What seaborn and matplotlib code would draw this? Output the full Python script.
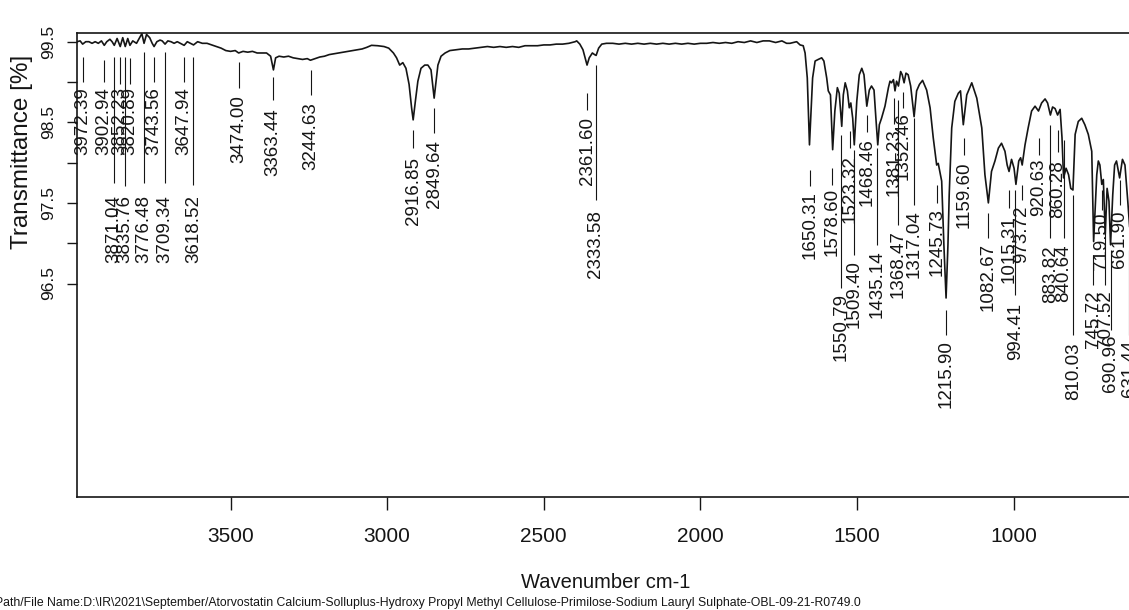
import matplotlib
matplotlib.use("Agg")
import matplotlib.pyplot as plt
import seaborn as sns
import pandas as pd

# ---------------- data ----------------
wavenumber = [
    3990, 3980, 3972, 3962, 3952, 3942, 3932, 3922, 3912, 3903, 3895, 3885, 3878, 3871,
    3862, 3852, 3844, 3836, 3828, 3821, 3812, 3800, 3790, 3783, 3776, 3768, 3758, 3750,
    3744, 3735, 3725, 3718, 3709, 3700, 3690, 3680, 3670, 3660, 3648, 3638, 3628, 3618,
    3605, 3590, 3575, 3560, 3545, 3530, 3515, 3500, 3485, 3474, 3460, 3445, 3430, 3415,
    3400, 3385, 3372, 3363, 3356, 3345, 3330, 3315, 3300, 3285, 3270, 3255, 3245, 3230,
    3215, 3200, 3185, 3170, 3155, 3140, 3125, 3110, 3095, 3080, 3065, 3050, 3030, 3010,
    2995, 2980, 2970, 2960, 2950, 2940, 2930, 2922, 2917, 2910, 2902, 2892, 2880, 2870,
    2860, 2855, 2850, 2845, 2838, 2828, 2815, 2800, 2780, 2760, 2740, 2720, 2700, 2680,
    2660, 2640, 2620, 2600, 2580, 2560, 2540, 2520, 2500, 2480, 2460, 2440, 2420, 2400,
    2395, 2385, 2375, 2368, 2362, 2355, 2345, 2338, 2333, 2325, 2315, 2300, 2280, 2260,
    2240, 2220, 2200, 2180, 2160, 2140, 2120, 2100, 2080, 2060, 2040, 2020, 2000, 1980,
    1960, 1940, 1920, 1900, 1880, 1860, 1840, 1820, 1800, 1780, 1760, 1740, 1725, 1714,
    1693, 1682, 1672, 1666, 1659, 1652, 1647, 1642, 1634, 1624, 1613, 1606, 1597, 1592,
    1585, 1578, 1571, 1563, 1557, 1549, 1544, 1538, 1531, 1525, 1520, 1514, 1509, 1501,
    1493, 1485, 1478, 1469, 1461, 1454, 1446, 1440, 1434, 1429, 1422, 1411, 1400, 1395,
    1390, 1384, 1379, 1374, 1368, 1361, 1356, 1350, 1344, 1337, 1329, 1318, 1310, 1301,
    1291, 1278, 1267, 1257, 1246, 1241, 1230, 1223, 1216, 1210, 1206, 1198, 1188, 1177,
    1170, 1161, 1150, 1134, 1118, 1102, 1092, 1081, 1071, 1060, 1049, 1039, 1028, 1021,
    1015, 1007, 999, 993, 984, 978, 973, 964, 954, 943, 932, 921, 911, 900,
    892, 883, 876, 868, 860, 852, 846, 841, 833, 825, 818, 811, 804, 794,
    783, 773, 762, 751, 748, 745, 735, 730, 725, 719, 714, 708, 702, 696,
    691, 684, 678, 672, 662, 653, 645, 636, 630,
]
transmittance = [
    99.50, 99.51, 99.47, 99.50, 99.50, 99.48, 99.50, 99.48, 99.51, 99.455, 99.50, 99.53, 99.50, 99.455,
    99.54, 99.44, 99.55, 99.44, 99.54, 99.455, 99.51, 99.48, 99.55, 99.60, 99.48, 99.59, 99.55, 99.48,
    99.44, 99.50, 99.52, 99.51, 99.47, 99.51, 99.50, 99.48, 99.50, 99.48, 99.455, 99.50, 99.48, 99.46,
    99.50, 99.48, 99.48, 99.46, 99.44, 99.42, 99.39, 99.38, 99.39, 99.36, 99.38, 99.37, 99.38, 99.36,
    99.36, 99.36, 99.32, 99.15, 99.30, 99.32, 99.31, 99.32, 99.30, 99.29, 99.28, 99.29, 99.27, 99.29,
    99.31, 99.32, 99.34, 99.35, 99.36, 99.37, 99.38, 99.39, 99.40, 99.41, 99.43, 99.455, 99.45, 99.44,
    99.42, 99.36, 99.30, 99.21, 99.24, 99.17, 98.97, 98.68, 98.53, 98.76, 99.01, 99.17, 99.21, 99.21,
    99.15, 98.97, 98.80, 98.97, 99.21, 99.32, 99.36, 99.39, 99.40, 99.41, 99.41, 99.42, 99.43, 99.44,
    99.43, 99.44, 99.43, 99.44, 99.43, 99.45, 99.45, 99.45, 99.46, 99.46, 99.47, 99.47, 99.48, 99.50,
    99.51, 99.47, 99.40, 99.30, 99.21, 99.30, 99.36, 99.34, 99.33, 99.42, 99.47, 99.48, 99.48, 99.47,
    99.48, 99.47, 99.48, 99.47, 99.48, 99.47, 99.48, 99.47, 99.48, 99.47, 99.48, 99.47, 99.48, 99.48,
    99.49, 99.48, 99.49, 99.48, 99.50, 99.49, 99.51, 99.49, 99.51, 99.51, 99.49, 99.51, 99.48, 99.48,
    99.50, 99.46, 99.45, 99.36, 99.05, 98.22, 98.64, 99.05, 99.26, 99.28, 99.30, 99.26, 99.05, 98.89,
    98.84, 98.16, 98.64, 98.93, 98.86, 98.45, 98.84, 98.99, 98.89, 98.68, 98.74, 98.55, 98.22, 98.76,
    99.09, 99.17, 99.09, 98.70, 98.90, 98.95, 98.90, 98.55, 98.22, 98.47, 98.55, 98.70, 98.93, 99.01,
    98.99, 99.03, 98.89, 99.01, 98.95, 99.13, 99.09, 98.99, 99.11, 99.09, 98.95, 98.57, 98.89, 98.97,
    99.02, 98.90, 98.68, 98.31, 97.97, 97.99, 97.77, 96.98, 96.32, 96.98, 97.60, 98.43, 98.76, 98.86,
    98.89, 98.47, 98.84, 98.99, 98.80, 98.43, 97.85, 97.50, 97.89, 98.02, 98.18, 98.24, 98.14, 97.97,
    97.89, 98.04, 97.93, 97.73, 98.02, 98.06, 97.97, 98.22, 98.43, 98.64, 98.70, 98.64, 98.74, 98.79,
    98.74, 98.59, 98.69, 98.67, 98.59, 98.66, 98.31, 97.81, 97.93, 97.85, 97.68, 97.66, 98.35, 98.51,
    98.55, 98.47, 98.35, 98.14, 97.60, 97.02, 97.85, 98.02, 97.97, 97.73, 97.79, 97.11, 97.68, 97.52,
    96.98, 97.60, 97.97, 98.02, 97.81, 98.04, 97.97, 97.52, 97.20,
]
peak_positions = [
    3972.39, 3902.94, 3871.04, 3852.23, 3835.76, 3820.89, 3776.48, 3743.56, 3709.34, 3647.94,
    3618.52, 3474.00, 3363.44, 3244.63, 2916.85, 2849.64, 2361.60, 2333.58, 1650.31, 1578.60,
    1550.79, 1523.32, 1509.40, 1468.46, 1435.14, 1381.23, 1368.47, 1352.46, 1317.04, 1245.73,
    1215.90, 1159.60, 1082.67, 1015.31, 994.41, 973.72, 920.63, 883.82, 860.28, 840.64,
    810.03, 745.72, 719.50, 707.52, 690.96, 661.90, 631.44,
]
x_ticks = [3500, 3000, 2500, 2000, 1500, 1000]
y_ticks = [96.5, 97.0, 97.5, 98.0, 98.5, 99.0, 99.5]
y_tick_labels = ["96.5", "", "97.5", "", "98.5", "", "99.5"]
x_label = "Wavenumber cm-1"
y_label = "Transmittance [%]"
file_path = ("Path/File Name:D:\\IR\\2021\\September/Atorvostatin Calcium-Solluplus-Hydroxy Propyl "
             "Methyl Cellulose-Primilose-Sodium Lauryl Sulphate-OBL-09-21-R0749.0")

# ---------------- layout (pixels from top of the image) ----------------
# (line top, line bottom, text top) for each peak annotation
label_layout = [
    (57, 82, 87), (60, 82, 87), (57, 183, 195), (57, 84, 87), (57, 186, 195),
    (58, 84, 87), (52, 183, 195), (57, 82, 87), (52, 183, 195), (57, 82, 87),
    (57, 185, 195), (62, 88, 95), (77, 100, 108), (70, 95, 102), (130, 148, 157),
    (108, 133, 140), (93, 110, 117), (65, 200, 210), (170, 186, 191), (168, 185, 188),
    (135, 288, 293), (131, 148, 155), (150, 255, 260), (115, 132, 138), (148, 245, 250),
    (98, 124, 128), (100, 225, 230), (92, 108, 112), (118, 205, 210), (185, 203, 208),
    (310, 335, 340), (138, 155, 162), (213, 238, 243), (190, 208, 215), (190, 295, 303),
    (185, 200, 205), (138, 155, 158), (125, 238, 245), (130, 152, 160), (140, 238, 245),
    (195, 335, 342), (255, 285, 290), (190, 210, 213), (215, 285, 290), (250, 330, 335),
    (180, 205, 210), (250, 335, 340),
]

W, H = 1129, 610
AX_LEFT, AX_RIGHT, AX_TOP, AX_BOTTOM = 77, 1129, 33.3, 497
PX_PER_UNIT = 80.6
REF_Y = 41.7  # pixel row of 99.5 %


def px_to_t(y):
    return 99.5 - (y - REF_Y) / PX_PER_UNIT


X_LEFT_WN = 3990.0
X_RIGHT_WN = 632.1
INK = "#151515"

sns.set_theme(style="ticks")
plt.rcParams["font.family"] = ["Liberation Sans", "DejaVu Sans"]

fig = plt.figure(figsize=(W / 100, H / 100), dpi=100)
fig.patch.set_facecolor("white")
ax = fig.add_axes([AX_LEFT / W, 1 - AX_BOTTOM / H, (AX_RIGHT - AX_LEFT) / W, (AX_BOTTOM - AX_TOP) / H])
ax.set_facecolor("white")

df = pd.DataFrame({"wavenumber": wavenumber, "transmittance": transmittance})
sns.lineplot(data=df, x="wavenumber", y="transmittance", ax=ax, color=INK,
             linewidth=1.2, estimator=None, sort=True)

ax.set_xlim(X_LEFT_WN, X_RIGHT_WN)
ax.set_ylim(px_to_t(AX_BOTTOM), px_to_t(AX_TOP))

# peak annotations
for wn, (lt, lb, tt) in zip(peak_positions, label_layout):
    ax.vlines(wn, px_to_t(lb), px_to_t(lt), color=INK, linewidth=0.8, clip_on=False)
    ax.text(wn, px_to_t(tt), f"{wn:.2f}", rotation=90, ha="center", va="top",
            fontsize=13.5, color=INK, clip_on=False)

# axes styling
for side in ["left", "top", "bottom"]:
    ax.spines[side].set_linewidth(1.2)
    ax.spines[side].set_color(INK)
ax.spines["right"].set_visible(False)

ax.set_xticks(x_ticks)
ax.set_xticklabels([str(t) for t in x_ticks], fontsize=15)
ax.tick_params(axis="x", direction="out", length=9.4, width=1.0, pad=12, colors=INK)
ax.set_yticks(y_ticks)
ax.set_yticklabels(y_tick_labels, rotation=90, va="center", fontsize=12.5)
ax.tick_params(axis="y", direction="out", length=7.2, width=1.0, pad=8, colors=INK)
ax.set_xlabel("")
ax.set_ylabel("")

fig.text(22 / W, 1 - 151.5 / H, y_label, rotation=90, ha="center", va="center",
         fontsize=17.5, color=INK)
fig.text(606 / W, 1 - 583 / H, x_label, ha="center", va="center",
         fontsize=14.5, color=INK)
fig.text(-5 / W, 1 - 603 / H, file_path, ha="left", va="center",
         fontsize=8.8, color=INK)

fig.savefig("out.png", dpi=100, facecolor="white")
